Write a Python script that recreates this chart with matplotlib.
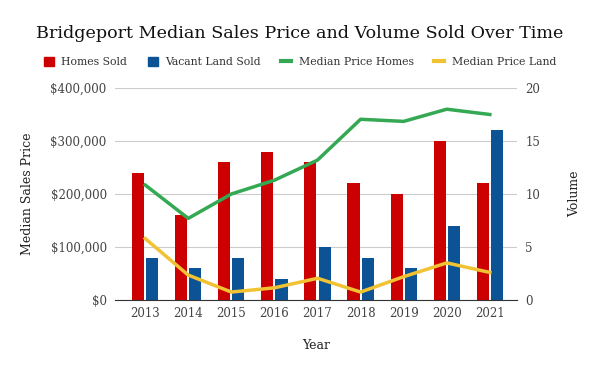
import numpy as np
import matplotlib
matplotlib.use("Agg")
from matplotlib import pyplot as plt
from matplotlib.lines import Line2D
from matplotlib.patches import Patch

years = ["2013", "2014", "2015", "2016", "2017", "2018", "2019", "2020", "2021"]
homes_sold = [12, 8, 13, 14, 13, 11, 10, 15, 11]
land_sold = [4, 3, 4, 2, 5, 4, 3, 7, 16]
price_homes = [217000, 154000, 200000, 226000, 264000, 341000, 337000, 360000, 350000]
price_land = [116000, 47000, 15000, 23000, 41000, 15000, 44000, 70000, 52000]

RED = "#cc0000"
BLUE = "#0b5394"
GREEN = "#34a853"
YELLOW = "#f1c232"
FONT = "DejaVu Serif"

plt.rcParams['font.family'] = [FONT]

fig = plt.figure(figsize=(6, 3.71), dpi=100)
ax = fig.add_axes([115/600, 1-300/371, (517-115)/600, (300-88)/371])
ax2 = ax.twinx()

x = np.arange(len(years))

#bars on right axis (volume)
ax2.bar(x-0.165, homes_sold, width=0.28, color=RED, zorder=2)
ax2.bar(x+0.165, land_sold, width=0.28, color=BLUE, zorder=2)
ax2.set_ylim(0, 20)
ax2.set_yticks([0, 5, 10, 15, 20])

#lines on left axis (price)
ax.plot(x, price_homes, color=GREEN, lw=2.5, zorder=3)
ax.plot(x, price_land, color=YELLOW, lw=2.5, zorder=3)
ax.set_ylim(0, 400000)
ax.set_yticks([0, 100000, 200000, 300000, 400000])
ax.set_yticklabels(["${:,}".format(v) if v else "$0" for v in [0, 100000, 200000, 300000, 400000]])
ax.set_xlim(-0.7, 8.63)
ax.set_xticks(x)
ax.set_xticklabels(years)

#lines drawn above bars
ax.set_zorder(ax2.get_zorder()+1)
ax.patch.set_visible(False)
ax2.patch.set_visible(True)
ax2.patch.set_facecolor("white")

ax2.grid(axis="y", color="#cccccc", lw=0.8, zorder=0)
for a in (ax, ax2):
    for s in a.spines.values():
        s.set_visible(False)
    a.tick_params(length=0, labelsize=8.5, colors="#444444", pad=6)
ax.spines["bottom"].set_visible(True)
ax.spines["bottom"].set_color("#333333")
ax.tick_params(axis="x", pad=5)

ax.set_xlabel("Year", fontsize=9, labelpad=14, color="#222222")
ax.set_ylabel("Median Sales Price", fontsize=9, labelpad=12, color="#222222")
ax2.set_ylabel("Volume", fontsize=9, labelpad=20, color="#222222")

fig.text(0.5, 1-33/371, "Bridgeport Median Sales Price and Volume Sold Over Time",
         ha="center", va="center", fontsize=12.6, color="#111111")

handles = [Patch(color=RED), Patch(color=BLUE),
           Line2D([], [], color=GREEN, lw=3), Line2D([], [], color=YELLOW, lw=3)]
labels = ["Homes Sold", "Vacant Land Sold", "Median Price Homes", "Median Price Land"]
fig.legend(handles, labels, loc="center", bbox_to_anchor=(0.5, 1-62/371), ncol=4,
           frameon=False, fontsize=7.8, handlelength=0.9, handleheight=0.9,
           columnspacing=1.9, handletextpad=0.7, labelcolor="#333333")

fig.savefig("out.png", dpi=100)
